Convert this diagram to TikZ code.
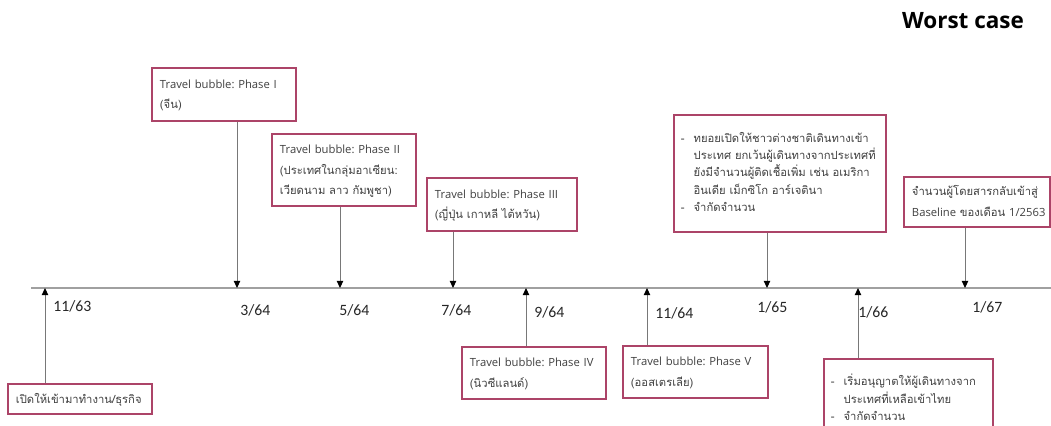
\documentclass[tikz,border=0pt]{standalone}
\usepackage{fontspec}
\usepackage{tikz}
\usetikzlibrary{arrows.meta}
\newfontfamily\thaifont[Script=Thai]{Loma}
\newfontfamily\numfont{Carlito}
\newfontfamily\latfont{Open Sans}
\definecolor{boxred}{RGB}{172,68,104}
\definecolor{axisgray}{RGB}{160,160,160}
\definecolor{linegray}{RGB}{120,120,120}
\definecolor{textgray}{RGB}{64,64,64}
\tikzset{
  evbox/.style={draw=boxred, line width=1.1pt, fill=white, text=textgray,
    align=left, inner xsep=0.2cm, inner ysep=0pt,
    font=\thaifont\fontsize{8}{14.6}\selectfont},
  bulbox/.style={evbox, inner xsep=0.175cm, font=\thaifont\fontsize{8}{12.4}\selectfont},
  datelab/.style={anchor=west, inner sep=0pt, text=black!85,
    font=\numfont\fontsize{11.2}{13}\selectfont},
  conn/.style={draw=linegray, line width=0.7pt,
    -{Triangle[length=5pt, width=4.5pt, color=black]}}
}
\frenchspacing
\newcommand{\rows}[1]{\begin{tabular}{@{}l@{}}#1\end{tabular}}
\newcommand{\dashitem}{\makebox[9pt][l]{-}}
\newcommand{\dashcont}{\hspace*{9pt}}
\newcommand{\tb}[1]{{\latfont Travel bubble: Phase #1}}

\begin{document}
\begin{tikzpicture}[x=0.025cm, y=-0.025cm]
\useasboundingbox (0,0) rectangle (1051,426);
\node[font=\latfont\bfseries\fontsize{16}{18}\selectfont] (title) at (963,21) {Worst case};
% time axis
\coordinate (start) at (31,288);
\coordinate (end) at (1051,288);
\draw[axisgray, line width=1.4pt] (start) -- (end);
\foreach \m/\yy/\x/\y in {11/63/53/306, 3/64/240/310, 5/64/339/310, 7/64/441/310,
  9/64/534/312, 11/64/655/313, 1/65/757/307, 1/66/858/312, 1/67/972/307}
{
	\node[datelab] (l\m-\yy) at (\x,\y) {\m/\yy};
}
% points on the axis
\coordinate (t1) at (45,288);
\coordinate (t2) at (237,288);
\coordinate (t3) at (340,288);
\coordinate (t4) at (453,288);
\coordinate (t5) at (526,288);
\coordinate (t6) at (647,288);
\coordinate (t7) at (767,288);
\coordinate (t8) at (858,288);
\coordinate (t9) at (965,288);
% boxes above the axis
\node[evbox, minimum width=3.6cm, text width=3.2cm, minimum height=1.325cm] (ph1) at (224,94.5)
  {\rows{\tb{I}\\(จีน)}};
\node[evbox, minimum width=3.6cm, text width=3.2cm, minimum height=1.8cm] (ph2) at (344,170)
  {\rows{\tb{II}\\(ประเทศในกลุ่มอาเซียน:\\เวียดนาม ลาว กัมพูชา)}};
\node[evbox, minimum width=3.75cm, text width=3.35cm, minimum height=1.325cm] (ph3) at (502,204.5)
  {\rows{\tb{III}\\(ญี่ปุ่น เกาหลี ไต้หวัน)}};
\node[bulbox, minimum width=5.3cm, text width=4.95cm, minimum height=2.925cm] (open) at (780,173.5)
  {\rows{\dashitem ทยอยเปิดให้ชาวต่างชาติเดินทางเข้า\\
   \dashcont ประเทศ ยกเว้นผู้เดินทางจากประเทศที่\\
   \dashcont ยังมีจำนวนผู้ติดเชื้อเพิ่ม เช่น อเมริกา\\
   \dashcont อินเดีย เม็กซิโก อาร์เจตินา\\
   \dashitem จำกัดจำนวน}};
\node[evbox, minimum width=3.65cm, text width=3.25cm, minimum height=1.25cm] (base) at (977,202)
  {\rows{จำนวนผู้โดยสารกลับเข้าสู่\\{\latfont Baseline} ของเดือน {\latfont 1/2563}}};
% boxes below the axis
\node[evbox, minimum width=3.6cm, text width=3.2cm, minimum height=0.75cm] (work) at (80,399)
  {\rows{เปิดให้เข้ามาทำงาน/ธุรกิจ}};
\node[evbox, minimum width=3.6cm, text width=3.2cm, minimum height=1.3cm] (ph4) at (534,373)
  {\rows{\tb{IV}\\(นิวซีแลนด์)}};
\node[evbox, minimum width=3.625cm, text width=3.225cm, minimum height=1.3cm] (ph5) at (695.5,372)
  {\rows{\tb{V}\\(ออสเตรเลีย)}};
\node[bulbox, minimum width=4.225cm, text width=3.875cm, minimum height=2.05cm, anchor=north] (rest) at (908.5,358)
  {\rows{\dashitem เริ่มอนุญาตให้ผู้เดินทางจาก\\
   \dashcont ประเทศที่เหลือเข้าไทย\\
   \dashitem จำกัดจำนวน}};
% arrows to the axis
\draw[conn] (work.north -| t1) -- (t1);
\draw[conn] (ph1.south -| t2) -- (t2);
\draw[conn] (ph2.south -| t3) -- (t3);
\draw[conn] (ph3.south -| t4) -- (t4);
\draw[conn] (ph4.north -| t5) -- (t5);
\draw[conn] (ph5.north -| t6) -- (t6);
\draw[conn] (open.south -| t7) -- (t7);
\draw[conn] (rest.north -| t8) -- (t8);
\draw[conn] (base.south -| t9) -- (t9);
\end{tikzpicture}
\end{document}
